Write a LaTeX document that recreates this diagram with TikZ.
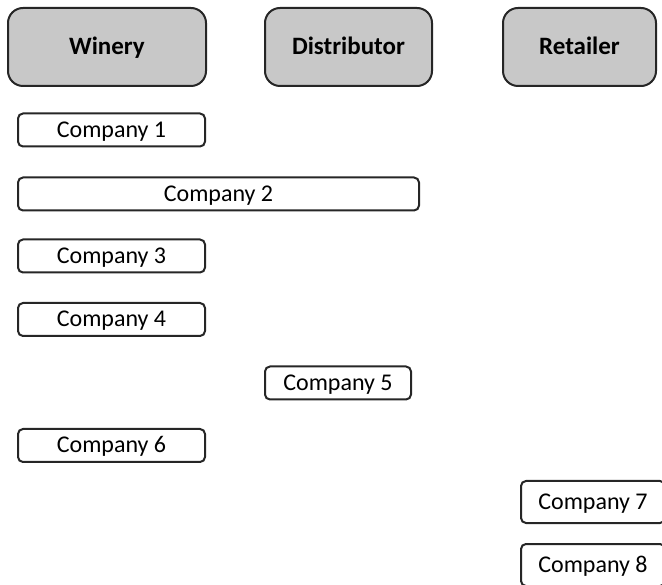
\documentclass[tikz,border=0pt]{standalone}
\usepackage{fontspec}
\setmainfont{Carlito}
\usetikzlibrary{positioning}
\definecolor{stagegray}{HTML}{C8C8C8}
\definecolor{edgedark}{HTML}{262626}
\tikzset{
  stage/.style={draw=edgedark, line width=2pt, fill=stagegray, rounded corners=15pt,
    minimum height=78pt, inner sep=0pt, text height=16pt, text depth=0pt,
    font=\fontsize{25}{28}\selectfont\bfseries},
  company/.style={draw=edgedark, line width=2pt, fill=white, rounded corners=5pt,
    minimum height=33pt, inner sep=0pt, text height=15pt, text depth=0pt,
    font=\fontsize{24}{27}\selectfont}
}
\begin{document}
\begin{tikzpicture}[x=1pt, y=-1pt]
            \useasboundingbox (0,0) rectangle (662,585);
            \clip (0,0) rectangle (662,585);
            % stages
            \node[stage, minimum width=198pt] (winery) at (107,47) {Winery};
            \node[stage, minimum width=167pt] (distributor) at (348.5,47) {Distributor};
            \node[stage, minimum width=153pt] (retailer) at (579.5,47) {Retailer};
            
            % companies
            \node[company, minimum width=187pt] (c1) at (111.5,130) {Company 1};
            \node[company, minimum width=401pt] (c2) at (218.5,194) {Company 2};
            \node[company, minimum width=187pt] (c3) at (111.5,256) {Company 3};
            \node[company, minimum width=187pt] (c4) at (111.5,319.5) {Company 4};
            \node[company, minimum width=146pt] (c5) at (338,383) {Company 5};
            \node[company, minimum width=187pt] (c6) at (111.5,445.5) {Company 6};
            \node[company, minimum width=144pt, minimum height=42pt] (c7) at (593,502) {Company 7};
            \node[company, minimum width=144pt, minimum height=42pt] (c8) at (593,565) {Company 8};
        \end{tikzpicture}
\end{document}
